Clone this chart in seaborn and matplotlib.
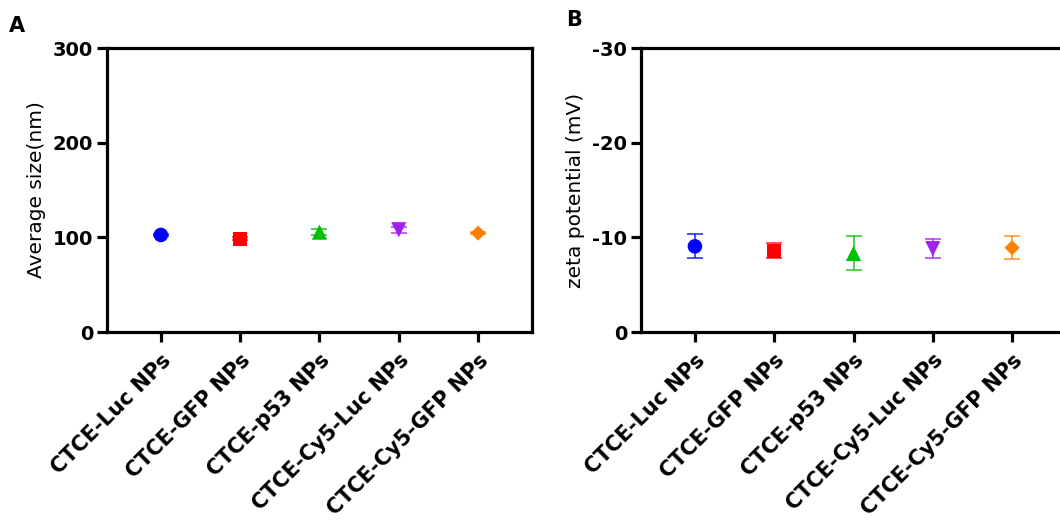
import numpy as np
import pandas as pd
import matplotlib
matplotlib.use("Agg")
import matplotlib.pyplot as plt
import seaborn as sns

# values
groups = ["CTCE-Luc NPs", "CTCE-GFP NPs", "CTCE-p53 NPs", "CTCE-Cy5-Luc NPs", "CTCE-Cy5-GFP NPs"]
size_mean = [102.5, 98.5, 105.5, 108.0, 104.5]
size_sd = [1.5, 1.5, 3.0, 3.0, 1.5]
zeta_mean = [-9.05, -8.6, -8.3, -8.8, -8.9]
zeta_sd = [1.25, 0.8, 1.8, 1.0, 1.2]

colors = ["#0000FF", "#FF0000", "#00C000", "#A020F0", "#FF8000"]
markers = ["o", "s", "^", "v", "D"]
msizes = [110, 100, 120, 120, 60]

sns.set_style("white")
plt.rcParams['font.family'] = ['DejaVu Sans']
plt.rcParams['text.color'] = 'black'
plt.rcParams['axes.labelcolor'] = 'black'
plt.rcParams['xtick.color'] = 'black'
plt.rcParams['ytick.color'] = 'black'

df = pd.DataFrame({"group": groups, "size": size_mean, "size_sd": size_sd,
                   "zeta": zeta_mean, "zeta_sd": zeta_sd})

fig = plt.figure(figsize=(10.6, 5.23), dpi=100)
ax_a = fig.add_axes([0.1009, 0.3652, 0.401, 0.543])
ax_b = fig.add_axes([0.6047, 0.3652, 0.401, 0.543])


def draw_panel(ax, col, sd_col, ylim, yticks, ylabel):
    for i, row in df.iterrows():
        ax.errorbar(i, row[col], yerr=row[sd_col], fmt="none", ecolor=colors[i],
                    elinewidth=1.3, capsize=6, capthick=1.3, alpha=0.75, zorder=2)
    sns.scatterplot(data=df, x="group", y=col, hue="group", style="group",
                    palette=colors, markers=markers, size="group",
                    sizes=dict(zip(groups, msizes)), legend=False,
                    edgecolor="none", ax=ax, zorder=3)
    ax.set_xlim(-0.68, 4.68)
    ax.set_ylim(*ylim)
    ax.set_yticks(yticks)
    ax.set_yticklabels([str(t) for t in yticks], fontsize=14, fontweight="bold")
    ax.set_xticks(range(len(groups)))
    ax.set_xticklabels(groups, rotation=45, ha="right", rotation_mode="anchor",
                       fontsize=15, fontweight="bold")
    ax.set_xlabel("")
    ax.set_ylabel(ylabel, fontsize=14.5, labelpad=5)
    for sp in ax.spines.values():
        sp.set_linewidth(2.3)
        sp.set_color("black")
    ax.tick_params(axis="both", length=7, width=2.3, color="black", pad=3, direction="out",
                   bottom=True, left=True)
    ax.tick_params(axis="x", pad=6)


draw_panel(ax_a, "size", "size_sd", (0, 300), [0, 100, 200, 300], "Average size(nm)")
draw_panel(ax_b, "zeta", "zeta_sd", (0, -30), [0, -10, -20, -30], "zeta potential (mV)")

fig.text(0.008, 0.938, "A", fontsize=15, fontweight="bold")
fig.text(0.534, 0.950, "B", fontsize=15, fontweight="bold")

fig.savefig("out.png", dpi=100)
